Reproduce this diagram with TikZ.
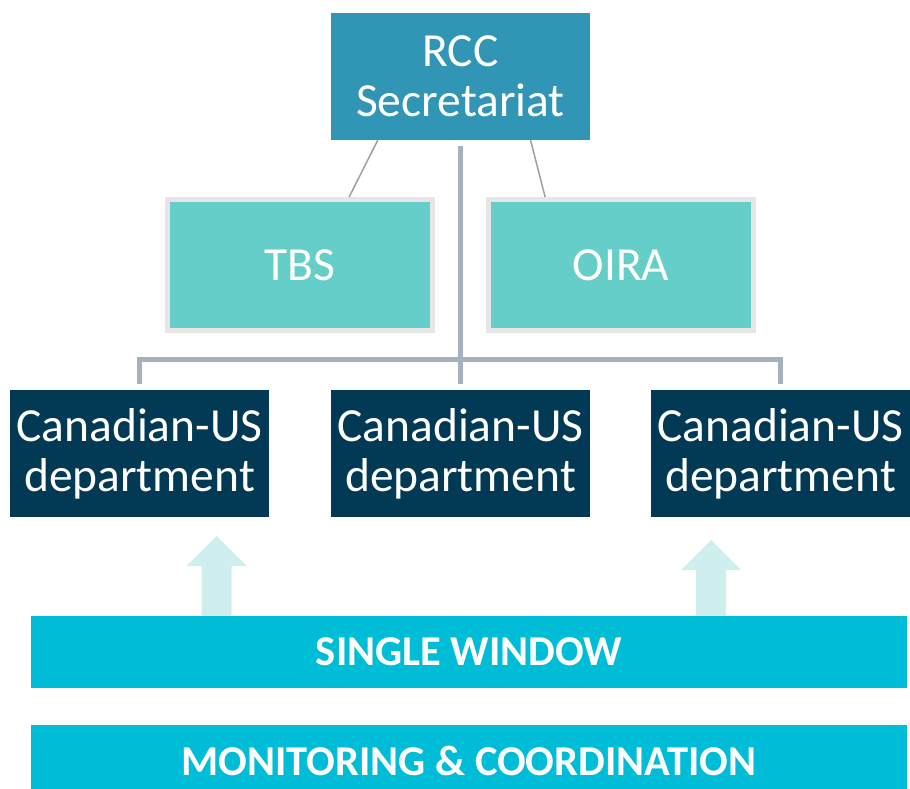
\documentclass[tikz,border=0pt]{standalone}
\usepackage{fontspec}
\setmainfont{Carlito}
\usetikzlibrary{calc}
\definecolor{rccblue}{HTML}{3195B5}
\definecolor{agencyteal}{HTML}{66CEC9}
\definecolor{agencyrim}{HTML}{E6E6E6}
\definecolor{deptnavy}{HTML}{023A55}
\definecolor{treegray}{HTML}{A5B1BE}
\definecolor{linkgray}{HTML}{A0A0A0}
\definecolor{arrowpale}{HTML}{CFEFEE}
\definecolor{barcyan}{HTML}{00BDD7}
\begin{document}
\begin{tikzpicture}[x=1pt, y=-1pt,
		box/.style={inner sep=0pt, text=white, align=center,
			font=\fontsize{47.5}{50}\selectfont},
		rccbox/.style={box, fill=rccblue, minimum width=259pt, minimum height=127pt},
		agency/.style={box, fill=agencyteal, draw=agencyrim, line width=5pt,
			minimum width=265pt, minimum height=131pt},
		dept/.style={box, fill=deptnavy, minimum width=259pt, minimum height=127pt},
		bar/.style={inner sep=0pt, fill=barcyan, text=white, minimum width=876pt,
			minimum height=72pt, font=\fontsize{42.5}{44}\selectfont\bfseries},
		tree/.style={treegray, line width=4.5pt},
		link/.style={linkgray, line width=1.5pt}]
		\useasboundingbox (0, 0) rectangle (910, 789);
		\clip (0, 0) rectangle (910, 789);
		\node[rccbox] (rcc) at (460.5, 76.5) {RCC\\Secretariat};
		\node[agency] (tbs) at (300, 265) {TBS};
		\node[agency] (oira) at (621, 265) {OIRA};
		\node[dept] (dep1) at (139.5, 453.5) {Canadian-US\\department};
		\node[dept] (dep2) at (460.5, 453.5) {Canadian-US\\department};
		\node[dept] (dep3) at (780.5, 453.5) {Canadian-US\\department};
		\node[bar] (window) at (469, 652) {SINGLE WINDOW};
		\node[bar] (monitor) at (469, 761) {MONITORING \& COORDINATION};
		% links to the agencies
		\draw[link] ($(rcc.south west)!0.181!(rcc.south east)$)
			-- ($(tbs.north west)!0.682!(tbs.north east)$);
		\draw[link] ($(rcc.south west)!0.77!(rcc.south east)$)
			-- ($(oira.north west)!0.219!(oira.north east)$);
		% tree to the departments
		\coordinate (hub) at (460.5, 359.5);
		\draw[tree] ([yshift=-6pt]rcc.south) -- ([yshift=6pt]dep2.north);
		\draw[tree] ([yshift=6pt]dep1.north) |- (hub) -| ([yshift=6pt]dep3.north);
		% arrows from the single window
		\fill[arrowpale] (window.north -| 201.7, 0) -- (201.7, 566) -- (186.7, 566)
			-- (216.7, 536) -- (246.7, 566) -- (231.7, 566) -- (window.north -| 231.7, 0) -- cycle;
		\fill[arrowpale] (window.north -| 696, 0) -- (696, 570) -- (681, 570)
			-- (711, 540) -- (741, 570) -- (726, 570) -- (window.north -| 726, 0) -- cycle;
\end{tikzpicture}
\end{document}
